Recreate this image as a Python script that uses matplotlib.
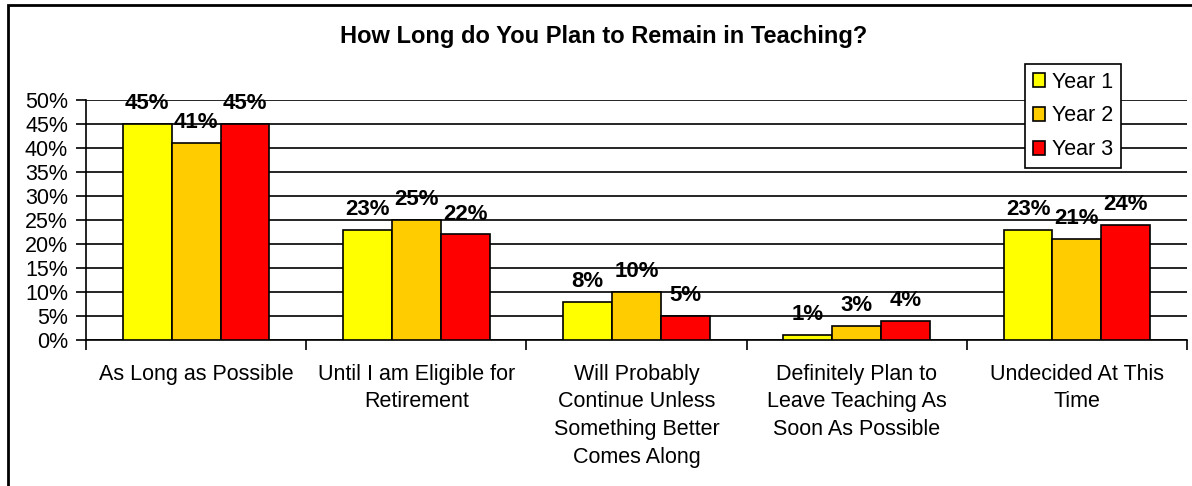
import matplotlib.pyplot as plt
import numpy as np
from matplotlib.patches import Rectangle
from matplotlib.ticker import PercentFormatter

categories = ['As Long as Possible',
              'Until I am Eligible for\nRetirement',
              'Will Probably\nContinue Unless\nSomething Better\nComes Along',
              'Definitely Plan to\nLeave Teaching As\nSoon As Possible',
              'Undecided At This\nTime']
year1 = [45, 23, 8, 1, 23]
year2 = [41, 25, 10, 3, 21]
year3 = [45, 22, 5, 4, 24]
series_names = ['Year 1', 'Year 2', 'Year 3']
colors = ['#FFFF00', '#FFCC00', '#FF0000']

plt.rcParams['font.family'] = ['Liberation Sans', 'DejaVu Sans']

fig = plt.figure(figsize=(11.92, 4.86), dpi=100)
ax = fig.add_axes([86/1192, 1 - 340/486, 1101/1192, 240/486])

# outer chart border (left and top visible)
fig.add_artist(Rectangle((8/1192, -0.1), 1.2, (486 - 5)/486 + 0.1,
                         transform=fig.transFigure, fill=False,
                         edgecolor='black', linewidth=2))

x = np.arange(len(categories))
width = 0.222
for i, (vals, name) in enumerate(zip([year1, year2, year3], series_names)):
    bars = ax.bar(x + (i - 1) * width, vals, width, color=colors[i],
                  edgecolor='black', linewidth=1.2, label=name, zorder=3)
    for rect, v in zip(bars, vals):
        ax.annotate(f'{v}%', xy=(rect.get_x() + rect.get_width() / 2, v),
                    xytext=(0, 7), textcoords='offset points',
                    ha='center', va='bottom', fontsize=16, fontweight='bold')

ax.set_xlim(-0.5, len(categories) - 0.5)
ax.set_ylim(0, 50)
ax.set_yticks(np.arange(0, 51, 5))
ax.yaxis.set_major_formatter(PercentFormatter(decimals=0))
ax.grid(axis='y', color='black', linewidth=1.2, zorder=0)
ax.set_axisbelow(True)

ax.set_xticks(np.arange(len(categories) + 1) - 0.5)
ax.set_xticklabels([])
ax.set_xticks(x, minor=True)
ax.set_xticklabels(categories, minor=True, fontsize=15.5, linespacing=1.42, va='top')
ax.tick_params(axis='x', which='minor', length=0, pad=17)
ax.tick_params(axis='x', which='major', length=7, width=1.2, direction='out')
ax.tick_params(axis='y', length=7, width=1.2, labelsize=15.5, pad=6)

for s in ['top', 'right']:
    ax.spines[s].set_visible(False)
for s in ['left', 'bottom']:
    ax.spines[s].set_linewidth(1.2)

leg = ax.legend(loc='upper left', bbox_to_anchor=(1025/1192, 1 - 64/486),
                bbox_transform=fig.transFigure, fontsize=15.5, frameon=True,
                fancybox=False, edgecolor='black', framealpha=1,
                handlelength=0.6, handleheight=0.6, handletextpad=0.3,
                borderpad=0.35, labelspacing=0.6, borderaxespad=0)
leg.get_frame().set_linewidth(1.2)
leg.set_zorder(5)

fig.text(604/1192, 1 - 37/486, 'How Long do You Plan to Remain in Teaching?',
         ha='center', va='center', fontsize=17, fontweight='bold')

fig.savefig('out.png', dpi=100)
